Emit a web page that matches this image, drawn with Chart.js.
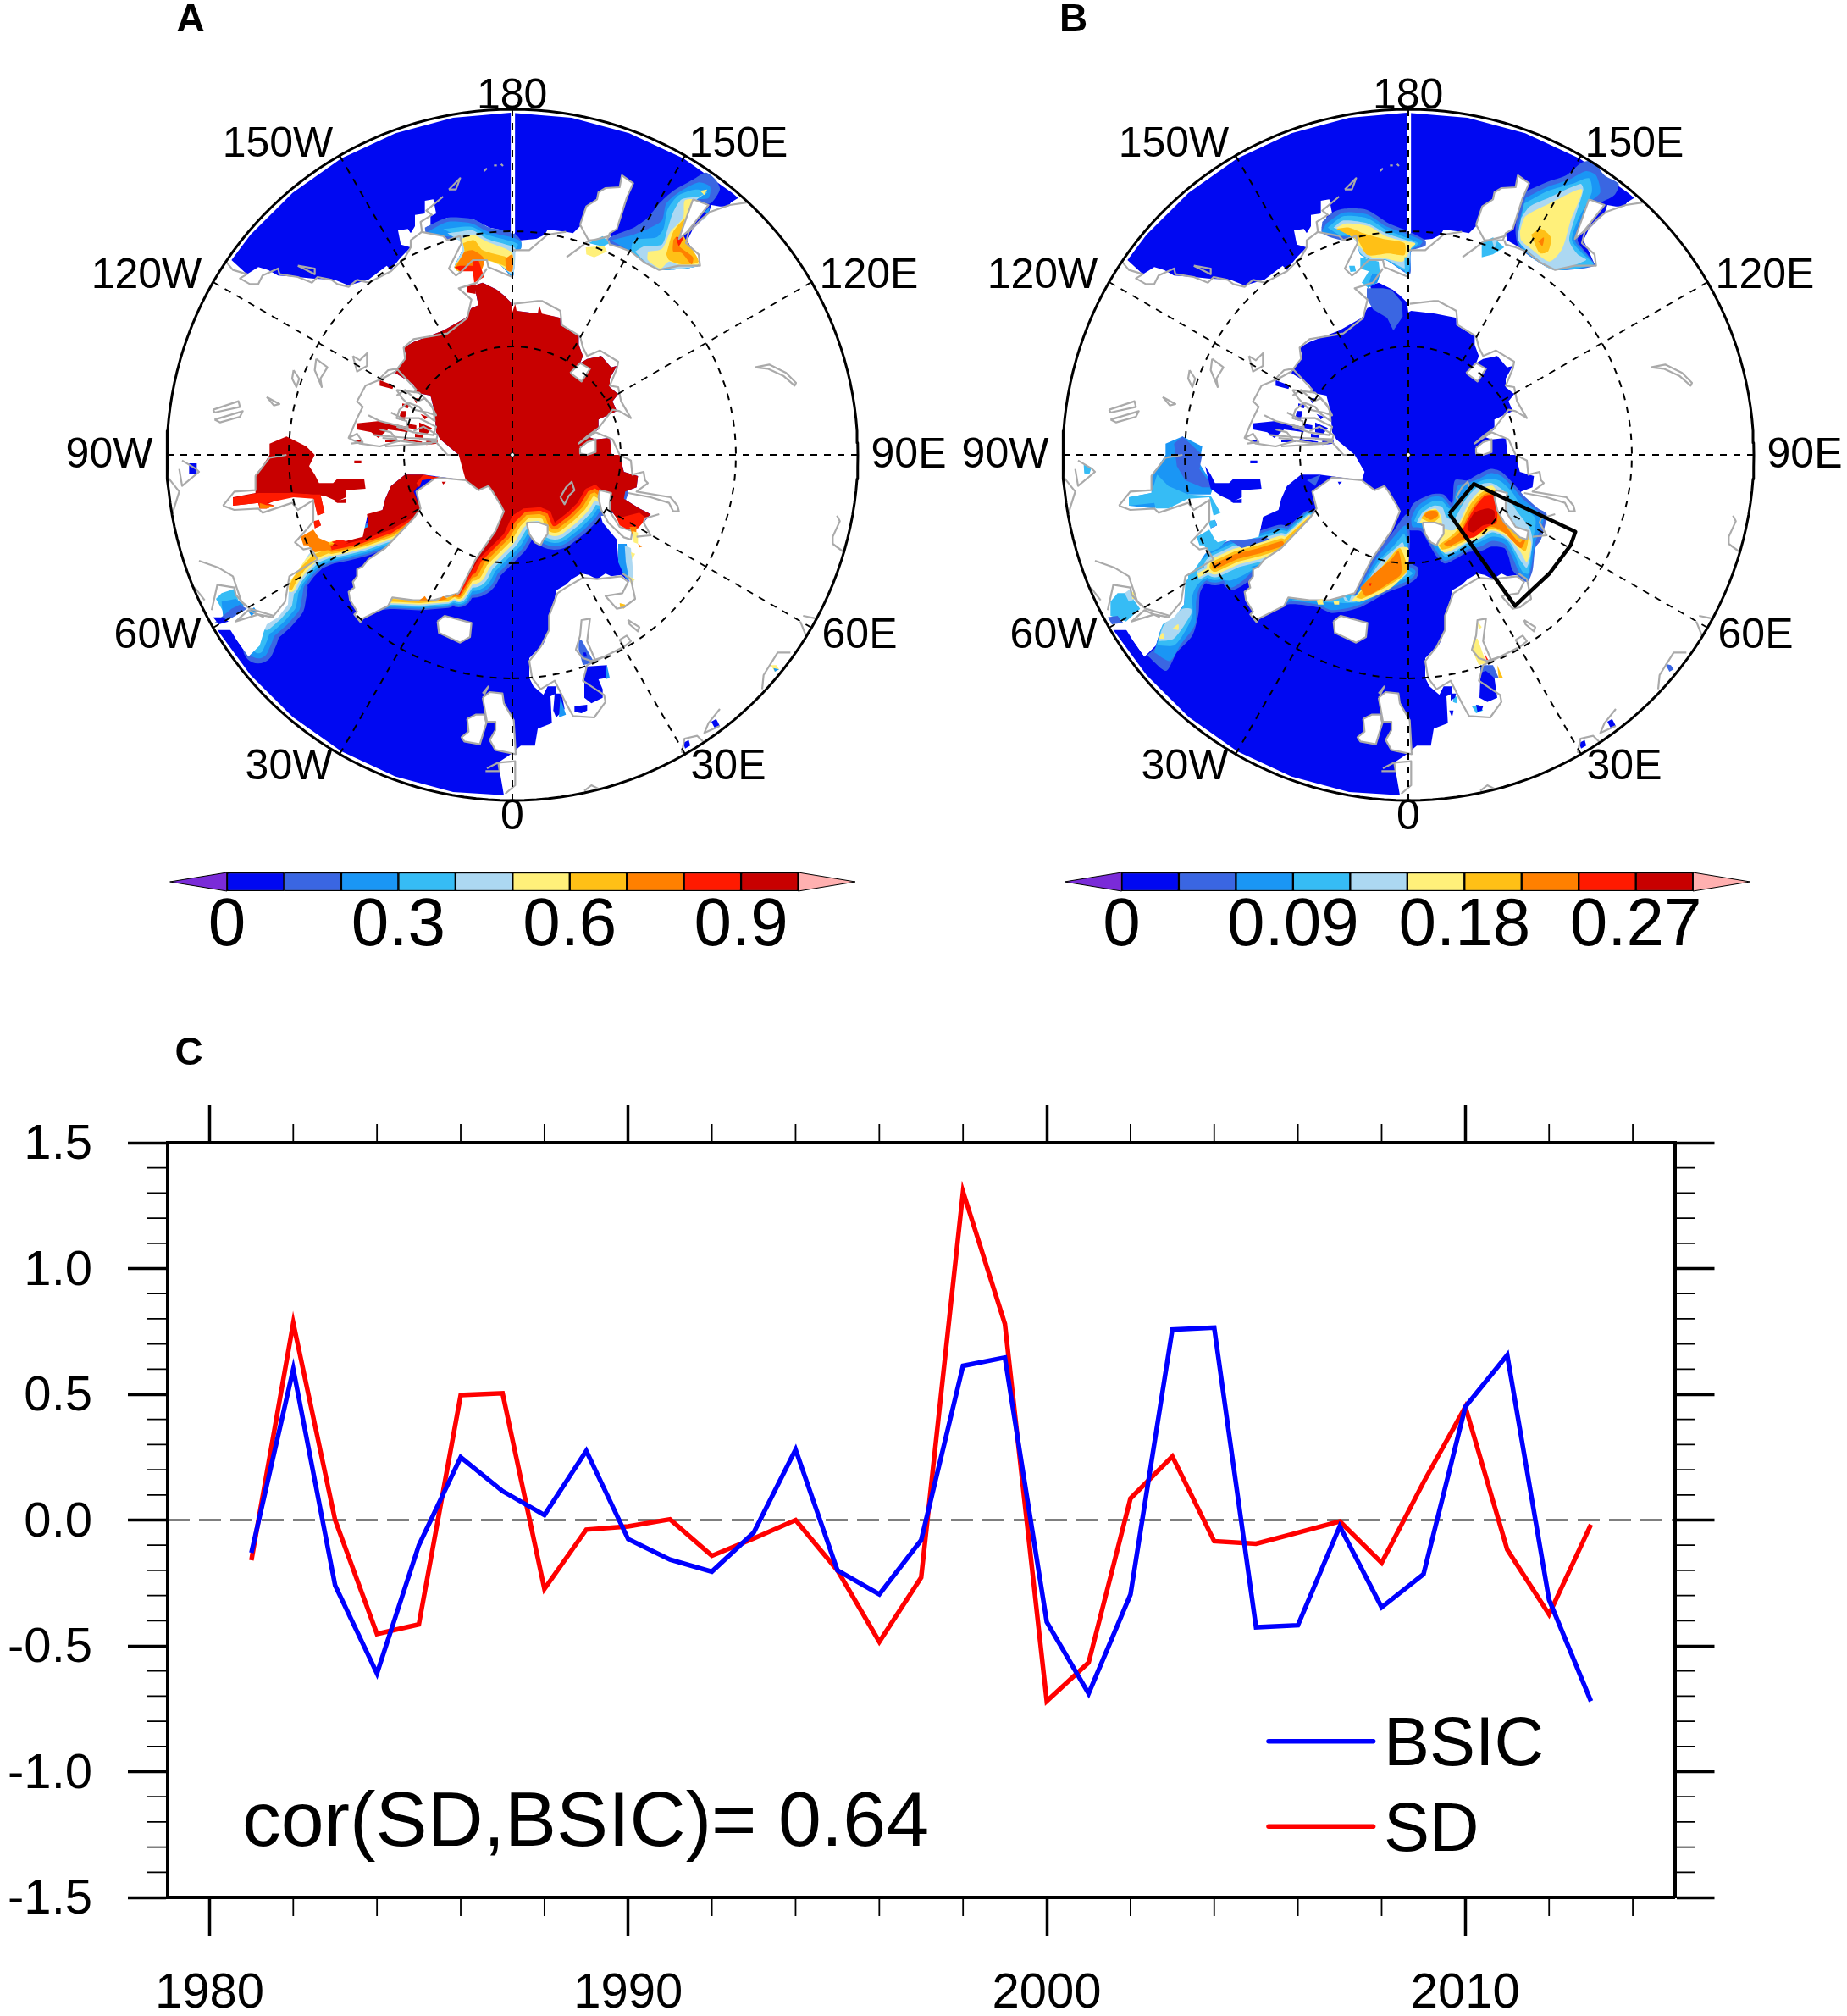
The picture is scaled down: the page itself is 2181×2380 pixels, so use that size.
<!DOCTYPE html>
<html><head><meta charset="utf-8"><title>Arctic sea ice and snow depth</title>
<script src="https://cdn.jsdelivr.net/npm/chart.js@4"></script>
<style>html,body{margin:0;padding:0;background:#fff;width:2181px;height:2380px;overflow:hidden}canvas{position:absolute;display:block}</style>
</head><body>
<canvas id="mapA" width="1130" height="1005" style="left:0;top:0;width:1130px;height:1005px"></canvas>
<canvas id="mapB" width="1051" height="1005" style="left:1130px;top:0;width:1051px;height:1005px"></canvas>
<canvas id="barA" width="980" height="140" style="left:120px;top:1010px;width:980px;height:140px"></canvas>
<canvas id="barB" width="1001" height="140" style="left:1180px;top:1010px;width:1001px;height:140px"></canvas>
<canvas id="series" width="2181" height="1180" style="left:0;top:1200px;width:2181px;height:1180px"></canvas>
<script>
/* ---------- panel C series ---------- */
const years=[1981,1982,1983,1984,1985,1986,1987,1988,1989,1990,1991,1992,1993,1994,1995,1996,1997,1998,1999,2000,2001,2002,2003,2004,2005,2006,2007,2008,2009,2010,2011,2012,2013];
const bsic=[-0.13,0.6,-0.26,-0.61,-0.10,0.25,0.115,0.02,0.275,-0.076,-0.157,-0.205,-0.05,0.28,-0.2,-0.295,-0.08,0.613,0.646,-0.405,-0.69,-0.296,0.757,0.765,-0.426,-0.418,-0.025,-0.347,-0.215,0.45,0.656,-0.317,-0.72];
const sd=[-0.16,0.783,0,-0.453,-0.415,0.497,0.504,-0.274,-0.038,-0.025,0.003,-0.142,-0.073,0,-0.2,-0.484,-0.228,1.305,0.78,-0.72,-0.567,0.086,0.253,-0.084,-0.094,-0.05,-0.005,-0.17,0.15,0.45,-0.117,-0.375,-0.018];
const yearMajor=[1980,1990,2000,2010];
const yearMinor=[1982,1984,1986,1988,1992,1994,1996,1998,2002,2004,2006,2008,2012,2014];
const valueMajor=[-1.5,-1,-0.5,0,0.5,1,1.5];
const valueMinor=[-1.4,-1.3,-1.2,-1.1,-0.9,-0.8,-0.7,-0.6,-0.4,-0.3,-0.2,-0.1,0.1,0.2,0.3,0.4,0.6,0.7,0.8,0.9,1.1,1.2,1.3,1.4];
/* ---------- colour bars ---------- */
const levelColors=['#0008F2','#3A66E2','#1A96F5','#36BCF5','#ACD8F2','#FFF07A','#FFC016','#FF8000','#FF1A00','#C80000'];
const barAEdges=[0,0.1,0.2,0.3,0.4,0.5,0.6,0.7,0.8,0.9,1];
const barBEdges=[0,0.03,0.06,0.09,0.12,0.15,0.18,0.21,0.24,0.27,0.3];
const barATicks=[0,0.3,0.6,0.9];
const barBTicks=[0,0.09,0.18,0.27];
/* ---------- map labels, in map grid units ---------- */
const lonNames=['180','150W','150E','120W','120E','90W','90E','60W','60E','30W','30E','0'];
const lonX=[1229,399,2031,-66,2493,-198,2634,-27,2460,438,1995,1230];
const lonY=[-39,132,132,597,597,1233,1233,1872,1872,2337,2337,2514];
const meridians=[0,30,60,90,120,150,180,210,240,270,300,330];
const parallels=[384,792];
const rimRadius=1224;
/* ---------- shared map outlines, map grid units (pole at 1230,1230) ---------- */
const pacificSea=[235,540,302,451,451,302,624,180,816,91,1020,36,1224,18,1440,36,1644,91,1836,180,2009,302,2030,320,2005,335,1995,350,1965,350,1935,345,1925,375,1910,390,1870,430,1850,470,1870,510,1890,555,1820,560,1750,572,1700,545,1650,510,1580,470,1575,445,1470,420,1445,445,1420,440,1355,432,1345,450,1315,465,1260,470,1240,470,1225,440,1150,425,1090,395,1000,390,920,425,940,420,940,385,960,375,950,325,920,330,920,375,885,380,885,420,870,445,860,430,825,435,835,485,870,495,835,530,815,555,800,575,785,560,720,610,650,630,600,610,520,605,470,600,400,595,365,575,330,565,290,590];
const atlanticSea=[185,1850,265,1850,265,1870,250,1880,295,1945,335,1905,350,1855,360,1830,400,1805,435,1760,440,1680,470,1640,510,1580,560,1545,610,1530,640,1535,700,1520,715,1450,770,1425,780,1385,800,1340,850,1300,915,1300,1065,1320,1075,1290,1040,1230,975,1175,960,1150,955,1080,940,1020,890,1010,880,980,815,940,855,880,845,850,880,830,985,790,1065,745,1085,710,1110,700,1095,630,1125,620,1175,645,1200,665,1225,690,1230,725,1240,720,1325,730,1400,745,1400,770,1465,810,1465,840,1480,880,1470,905,1495,890,1545,880,1580,920,1600,915,1575,960,1575,990,1605,1015,1585,1040,1600,1075,1535,1105,1535,1140,1495,1165,1525,1175,1575,1170,1582,1230,1610,1230,1625,1290,1675,1305,1670,1345,1630,1360,1625,1385,1680,1420,1720,1440,1695,1470,1640,1490,1570,1420,1545,1350,1530,1400,1550,1470,1600,1530,1605,1600,1640,1670,1645,1680,1615,1655,1580,1660,1560,1650,1530,1670,1500,1655,1475,1650,1440,1670,1420,1690,1385,1710,1380,1740,1360,1800,1360,1850,1340,1900,1290,1950,1290,2020,1305,2050,1340,2080,1355,2050,1385,2050,1385,2075,1365,2085,1370,2180,1320,2200,1310,2260,1260,2260,1225,2290,1180,2320,1200,2435,1020,2424,816,2369,624,2280,451,2158,302,2009];
const hudsonBay=[370,1190,430,1165,500,1200,530,1230,510,1270,530,1300,545,1330,595,1330,610,1315,705,1315,710,1350,640,1355,640,1380,610,1395,565,1375,530,1372,450,1368,360,1405,385,1410,360,1420,335,1420,330,1400,240,1410,240,1380,320,1365,320,1300,345,1270,370,1230];
const hudsonArm=[525,1372,550,1370,565,1435,540,1445];
const archipelago=[[680,1118,760,1110,855,1130,860,1150,790,1140,755,1170,730,1150,680,1140],[900,1115,945,1135,925,1160,900,1150],[760,965,810,985,805,997,760,985],[840,1048,865,1052,860,1065,840,1060],[835,1075,855,1075,848,1110,828,1105],[905,1085,930,1095,920,1105],[880,1030,900,1030,890,1048],[780,1178,830,1180,830,1185,780,1185],[845,1173,910,1183,910,1187,845,1180],[675,1178,695,1178,695,1185,675,1185],[670,1250,695,1250,695,1260,670,1260],[980,1325,995,1325,985,1335],[535,1465,545,1460,552,1480,530,1490],[600,1395,640,1385,640,1400,610,1400],[860,1120,890,1125,890,1140,860,1135],[925,1180,965,1175,965,1190,925,1195],[885,1155,915,1160,915,1170,885,1168]];
const remoteCells=[[1835,2250,1855,2240,1860,2260,1842,2270],[1935,2175,1952,2165,1965,2190,1948,2200]];
const landGreenland=[720,1600,700,1625,680,1635,680,1660,665,1680,670,1700,650,1715,655,1745,680,1785,670,1795,692,1822,700,1810,790,1765,805,1735,880,1745,950,1745,1040,1720,1100,1600,1170,1500,1200,1430,1190,1410,1160,1360,1145,1340,1110,1355,1065,1320,960,1310,890,1360,905,1420,880,1455,780,1560];
const landIceland=[965,1820,990,1800,1085,1825,1080,1875,1045,1895,970,1860];
const landIreland=[1070,2165,1100,2150,1130,2150,1138,2180,1115,2255,1060,2245,1050,2230,1075,2210];
const landBritain=[1125,2090,1150,2070,1195,2075,1200,2110,1235,2170,1242,2290,1170,2275,1150,2240,1170,2205,1170,2175,1140,2175];
const landKamchatka=[1470,415,1492,350,1530,325,1535,300,1560,285,1610,282,1618,240,1658,268,1635,320,1600,430,1575,445,1565,470,1500,470];
const landSakhalin=[1870,325,1925,345,1850,440,1820,465];
const landNovaya=[1540,1355,1580,1365,1575,1400,1575,1430,1610,1485,1655,1500,1650,1530,1625,1522,1570,1470,1545,1425,1535,1380];
const landSvalbard=[1280,1470,1325,1470,1355,1480,1355,1510,1340,1530,1330,1550,1310,1540,1290,1510];
const landTaimyr=[1470,1205,1495,1185,1525,1175,1525,1220,1495,1230,1470,1225];
const landSevernaya=[1435,940,1475,970,1505,925,1470,905];
const landAmerica=[295,1945,335,1905,350,1855,360,1830,400,1805,435,1760,440,1680,470,1640,510,1580,560,1545,610,1530,640,1535,700,1520,715,1450,640,1440,560,1470,400,1600,200,1800,250,1880];
const coastLines=[
[215,545,240,575,290,590,265,605,300,625,330,625,345,595,400,570,405,590,470,600,520,620,540,600,590,610,610,625,650,635,680,610,720,620,800,580,850,530,870,495,870,470,910,440,905,405,945,380,925,365,985,315],
[905,440,985,455,1000,470,1045,455,1050,480,1005,570,1030,595,1050,580,1090,540,1140,540,1145,565,1230,600],
[1140,570,1105,620,1040,640,1085,680,1070,745,1000,800,880,820,845,850,850,890,815,935,770,960,710,985,680,1040,700,1060,680,1100,650,1170,690,1190,760,1200,830,1180,900,1190,960,1185,1000,1230,1040,1230],
[170,1070,260,1040,265,1060,175,1080,170,1070],[175,1105,275,1075,265,1095,195,1115,175,1105],[360,1025,405,1050,385,1055,360,1025],[455,930,475,960,465,990,450,960,455,930],[535,890,575,920,550,960,555,990,530,930,535,890],[665,880,690,895,715,870,715,915,680,935,665,880],
[1005,290,1045,250,1030,290,1005,290],[1130,225,1140,215],[1165,205,1175,205],[1190,200,1197,207],[470,560,530,570,530,590,490,570,470,560],
[820,1000,900,1010,940,1050,960,1090,930,1080,880,1070,840,1030,820,1000],[800,1080,840,1100,900,1100,960,1130,950,1160,880,1150,820,1130],[740,1160,860,1170,960,1175,940,1190,780,1200],
[760,960,790,930,820,925,890,1000,880,1010],[820,1020,850,1000,895,1040,920,1030,950,1065,955,1110,920,1085,900,1060,860,1045,830,1070,820,1100,855,1110,860,1135,800,1120,760,1110,720,1090],[760,1140,800,1150,820,1175,770,1170],[880,1145,915,1130,965,1160,960,1180,900,1175],[650,1170,680,1155,700,1185,660,1190],
[2090,920,2140,910,2200,940,2235,975,2230,985,2190,950,2135,925,2090,920],
[2070,335,2000,345,1930,370,1900,395,1855,440,1845,480,1890,520,1895,560,1820,560,1750,575,1700,550,1650,510,1610,495,1575,485,1570,470],[1422,530,1470,495,1495,475,1575,455],
[1230,505,1290,505,1355,450,1420,440],[1235,695,1320,685,1335,685,1400,720,1405,770,1470,810,1480,850,1495,880,1540,860,1605,900,1600,925,1575,985,1605,990,1615,1040,1650,1100,1610,1075,1585,1070,1535,1135,1500,1160,1465,1190,1525,1150,1585,1175,1610,1230],
[1610,1230,1650,1250,1655,1300,1695,1290,1700,1320,1710,1330,1670,1360,1790,1380,1815,1410,1820,1430,1800,1430,1785,1400,1720,1380,1640,1365],[1750,1440,1700,1455,1695,1470,1720,1515,1670,1520],
[1620,1650,1650,1670,1665,1740,1625,1770,1600,1775,1560,1730,1620,1720,1640,1680,1615,1660,1530,1670,1480,1665,1420,1700,1390,1720,1360,1800,1360,1850,1330,1910,1290,1960,1300,2020,1330,2060,1380,2030,1420,2110,1445,2155,1520,2160,1560,2105,1555,2080,1480,2030,1495,1975,1615,1915,1555,1945,1510,1960,1480,1950,1455,1920,1470,1870,1475,1815,1505,1810,1495,1890,1525,1960],
[1640,1815,1680,1840,1675,1855,1645,1830,1640,1815],[1610,1885,1635,1870,1650,1890,1625,1910,1610,1885],[1400,1380,1420,1345,1440,1325,1450,1355,1430,1375,1415,1405,1400,1380],
[2380,1445,2390,1465,2365,1520,2365,1545,2405,1575],[2260,1800,2310,1810,2270,1870,2250,1820],[2215,1930,2170,1930,2120,2010,2115,2060],[1965,2130,1925,2180,1910,2215,1965,2190],[1830,2285,1840,2235,1885,2225,1910,2250],[1485,2420,1510,2400,1540,2415],
[205,1410,245,1360,320,1355,320,1305,370,1240,430,1230],[205,1410,245,1425,330,1420,345,1435,450,1400,470,1425,525,1390,525,1465,505,1490,460,1540,490,1565,515,1560,540,1600,490,1630,440,1660,425,1750,380,1805,330,1795,250,1820,295,1780,350,1805],
[120,1605,190,1630,240,1660,270,1750,290,1765],[165,1780,185,1690,245,1700,250,1725,280,1760,300,1775,385,1800],[60,1250,110,1280,120,1290,60,1340,50,1280],[10,1310,50,1360,25,1440],[105,1700,140,1745],
[1125,2075,1145,2050,1130,2080],[1140,2340,1180,2320,1185,2350,1135,2350],[1180,2320,1240,2315,1240,2400,1205,2430]
];
/* ---------- panel A ice-edge bands: [top level, band step, path] ---------- */
const iceEdgeA=[
[8,2.3,[880,1450,800,1500,700,1535,640,1550,590,1560]],
[6,2.7,[590,1565,530,1590,490,1630,460,1670,445,1700]],
[4,5,[445,1700,435,1760,400,1800,360,1835]],
[3,6,[360,1835,345,1880,330,1915]],
[6,1.7,[720,1755,800,1745,900,1750,1000,1742,1040,1720]],
[8,2,[1040,1722,1090,1640]],
[8,4,[1090,1640,1110,1600,1170,1540,1200,1510,1230,1460,1270,1420,1330,1415,1365,1430,1380,1470,1425,1435,1460,1400,1490,1350,1525,1335,1545,1350]]
];
const arcticA=[1065,1320,1040,1230,975,1175,960,1150,955,1080,940,1020,890,1010,880,980,815,940,855,880,845,850,880,830,985,790,1065,745,1085,710,1110,700,1095,630,1125,620,1175,645,1200,665,1225,690,1230,725,1240,695,1245,720,1320,730,1325,700,1335,730,1400,745,1400,770,1465,810,1465,840,1480,880,1470,905,1495,890,1545,880,1580,920,1600,915,1575,960,1575,990,1605,1015,1585,1040,1600,1075,1535,1105,1535,1140,1495,1165,1525,1175,1575,1170,1582,1230,1610,1230,1625,1290,1675,1305,1670,1345,1630,1360,1625,1385,1680,1420,1720,1440,1695,1465,1680,1445,1600,1455,1575,1420,1550,1360,1540,1350,1525,1335,1490,1350,1460,1400,1425,1435,1380,1470,1365,1430,1330,1415,1270,1420,1230,1445,1200,1510,1170,1540,1110,1600,1040,1720,1000,1500];
const baffinA=[715,1440,770,1425,780,1385,800,1340,850,1300,915,1300,905,1330,880,1360,905,1420,880,1450,800,1495,700,1530,640,1545,590,1555,610,1530,640,1525,660,1530,700,1515,705,1490,720,1485];
/* panel A contour layers: [level, outline] */
const layersA=[
[1,[335,465,365,450,430,425,480,390,520,340,570,295,640,255,685,230,720,255,735,290,700,340,640,330,590,465,625,530,660,560,520,572,420,510,350,485],1230],
[2,[350,470,430,450,480,430,530,400,545,340,590,300,660,265,700,280,695,320,640,330,590,465,625,530,660,560,520,572,420,510],1230],
[3,[420,510,430,470,510,460,535,430,550,360,590,310,650,290,690,300,650,330,600,460,625,530,660,560,520,572],1230],
[4,[435,510,470,490,530,485,550,430,570,370,600,325,660,315,690,300,650,330,600,460,620,530,660,560,520,572,470,545],1230],
[5,[480,510,530,500,560,440,605,390,610,330,640,325,640,340,600,440,640,530,660,555,600,560,555,545,525,570,480,540],1230],
[6,[545,520,570,440,610,395,600,440,660,545,600,555,555,540],1230],
[7,[570,470,585,455,590,490,640,530,635,555,600,515,570,510],1230],
[8,[580,460,605,460,590,490],1230],
[1,[920,425,1000,390,1090,395,1150,425,1230,440,1260,470,1260,500,1240,510,1232,600,1190,560,1150,540,1130,540,1090,540,1080,570,1040,580,1025,565,1050,510,1050,480,1040,450,1000,470,985,445,925,445]],
[2,[930,440,1000,405,1085,410,1145,440,1230,460,1260,475,1260,500,1240,505,1232,598,1190,560,1150,540,1090,540,1080,570,1040,580,1025,565,1050,510,1050,480,1030,460,985,455]],
[3,[985,430,1085,422,1140,450,1230,475,1250,485,1240,505,1232,595,1190,560,1150,540,1090,540,1080,570,1040,580,1025,565,1050,510,1050,480,1030,455]],
[4,[1000,445,1040,440,1090,435,1140,465,1225,490,1240,500,1232,590,1190,560,1150,540,1090,540,1080,570,1040,580,1025,565,1050,510,1050,480]],
[5,[1050,465,1090,450,1140,475,1225,510,1235,540,1225,580,1190,560,1130,540,1080,570,1040,580,1025,565,1060,510]],
[6,[1055,480,1095,470,1125,505,1210,530,1230,545,1225,575,1200,560,1130,540,1080,570,1040,580,1025,565,1060,515]],
[7,[1060,510,1090,505,1130,535,1120,575,1090,560,1050,570,1030,568]],
[7,[1205,535,1230,520,1230,580,1210,575]]
];
/* panel A detail cells: [level, outline] */
const detailsA=[
[9,[1070,630,1100,625,1100,660,1070,655]],[8,[1025,565,1045,560,1090,560,1090,545,1110,540,1130,600,1095,620,1090,580,1045,580]],
[3,[1500,480,1550,455,1575,480,1550,492]],[5,[1490,495,1555,490,1565,510,1520,530,1492,520]],
[5,[1895,295,1920,290,1910,310]],[2,[1910,370,1930,350,1925,375]],[4,[1895,395,1920,385,1905,400]],
[8,[240,1382,330,1365,450,1365,525,1370,550,1370,565,1435,540,1445,525,1385,455,1380,360,1400,388,1410,360,1420,335,1420,330,1400,240,1410]],
[7,[335,1400,358,1408,385,1410,360,1420,335,1420]],
[8,[525,1465,545,1460,552,1480,530,1490]],[7,[480,1520,525,1495,545,1525,580,1540,590,1565,530,1575,505,1550,490,1550]],
[8,[590,1538,620,1530,650,1540,620,1555]],[7,[900,1745,920,1730,930,1745]],[7,[965,1748,985,1730,1000,1740]],[7,[1015,1735,1030,1720,1035,1730]],
[8,[890,1330,915,1300,970,1310,910,1320,900,1345]],
[8,[1600,1455,1680,1435,1705,1455,1675,1490,1640,1495,1610,1480]],[7,[1645,1485,1670,1485,1668,1520,1655,1510]],[5,[1655,1500,1675,1505,1675,1545,1660,1540]],[7,[1675,1545,1690,1555,1680,1558]],
[2,[1605,1545,1635,1545,1640,1610,1655,1680,1630,1665,1605,1610]],[4,[1628,1550,1650,1560,1655,1610,1660,1680,1645,1680,1632,1610]],[5,[1650,1575,1665,1580,1655,1600]],[5,[1640,1660,1665,1670,1650,1685]],[6,[1610,1755,1630,1760,1625,1775,1612,1770]],
[3,[180,1740,200,1720,245,1705,265,1760,220,1810]],[2,[200,1750,250,1740,280,1760,240,1800,205,1800]],[1,[235,1775,265,1760,290,1775,240,1805,205,1820,175,1825]],[0,[170,1805,205,1805,225,1820,190,1830]],[2,[295,1785,315,1770,325,1785,305,1800]],
[0,[85,1260,112,1260,112,1297,85,1297]],
[1,[1465,1885,1475,1885,1520,1965,1480,1975,1465,1920]],[0,[1480,1930,1490,1930,1495,1945,1485,1945]],
[0,[1490,1980,1565,1975,1565,2020,1535,2025,1550,2060,1550,2090,1510,2110,1485,2090,1485,2020]],[2,[1565,1975,1575,2020,1560,2025]],
[0,[1450,2120,1495,2115,1495,2135,1475,2145,1450,2140]],[0,[1380,2075,1405,2075,1415,2130,1385,2160,1375,2135]],[2,[1400,2090,1420,2150,1395,2160]],
[5,[2145,1975,2165,1975,2175,1990,2160,1998]],[2,[2155,1985,2175,1990,2160,1998]]
];
/* ---------- panel B contour layers ---------- */
const ridgesB=[
[7,3.2,[545,1625,620,1590,700,1570,780,1545]],
[6,1.6,[780,1545,880,1455]],
[5,2.5,[470,1665,545,1625]]
];
const layersB=[
[1,[925,405,965,370,1004,358,1083,362,1161,410,1216,432,1290,470,1290,490,1240,510,1235,590,1150,540,1100,540,1060,520,1050,480,1040,450,1000,470,925,445]],
[2,[940,410,1000,372,1083,378,1150,420,1216,445,1280,472,1270,490,1240,505,1232,585,1150,540,1100,540,1060,520,1050,480,1030,460,985,455,925,440]],
[3,[945,425,1000,385,1085,392,1150,432,1216,458,1265,480,1250,495,1235,505,1230,580,1150,540,1100,540,1060,520,1050,480,1030,455,985,450]],
[4,[965,425,1000,400,1085,410,1150,445,1225,470,1255,480,1240,497,1225,570,1150,538,1100,538,1060,515,1045,475,1020,450]],
[5,[975,425,1010,410,1090,420,1150,455,1225,475,1255,482,1240,497,1210,545,1150,535,1100,530,1055,490,1040,465]],
[6,[975,430,1020,425,1070,445,1140,465,1216,480,1216,522,1160,517,1085,522,1050,470]],
[1,[1640,300,1726,262,1789,240,1844,195,1883,190,1925,240,1975,270,1960,310,1900,345,1860,400,1830,470,1865,520,1890,560,1750,575,1680,540,1620,490,1610,420]],
[2,[1645,320,1726,280,1800,255,1860,225,1895,240,1910,300,1880,330,1840,400,1820,470,1860,520,1885,558,1750,575,1680,540,1625,490,1620,420]],
[3,[1640,340,1726,295,1810,270,1870,250,1880,300,1830,400,1810,470,1850,520,1885,555,1745,575,1680,535,1625,480,1625,420]],
[4,[1630,390,1660,350,1726,320,1840,270,1850,290,1820,390,1800,470,1830,520,1860,540,1745,575,1680,530,1620,470]],
[5,[1625,440,1645,385,1740,335,1845,290,1805,400,1775,500,1730,545,1665,500,1630,470]],
[6,[1665,450,1700,430,1735,460,1725,510,1695,515]],
[7,[1690,475,1710,460,1705,490]],
[1,[305,1940,372,1995,410,1930,465,1870,487,1790,492,1720,515,1680,555,1670,600,1710,660,1680,690,1630,500,1600,440,1680,435,1760,400,1800,360,1830,335,1910]],
[2,[330,1930,385,1960,425,1900,475,1830,478,1750,490,1700,520,1670,560,1660,600,1700,650,1670,680,1630,500,1600,440,1680,435,1760,400,1800,360,1830,335,1910]],
[3,[340,1905,400,1905,430,1870,465,1800,465,1730,480,1695,520,1660,600,1675,680,1630,500,1600,440,1680,435,1760,400,1800,360,1830]],
[4,[345,1890,400,1880,460,1795,460,1775,430,1775,385,1810,360,1840]],
[5,[395,1845,415,1830,415,1850]],[5,[345,1880,360,1860,365,1880]],
[1,[1035,1735,1110,1585,1170,1510,1225,1440,1235,1560,1210,1590,1230,1610,1265,1630,1260,1665,1225,1690,1150,1720,1060,1770,960,1790,910,1770,800,1760,700,1810,800,1735,1040,1720]],
[2,[1040,1735,1115,1600,1175,1525,1220,1480,1230,1560,1205,1590,1225,1620,1255,1640,1250,1660,1220,1680,1150,1710,1060,1760,960,1780,910,1760,810,1750,720,1800,800,1735]],
[3,[1050,1725,1125,1605,1180,1550,1215,1510,1225,1560,1205,1595,1220,1630,1245,1650,1215,1670,1150,1700,1060,1750,1000,1755,900,1750,820,1745]],
[4,[1055,1730,1130,1610,1185,1560,1210,1540,1225,1600,1225,1650,1160,1695,1060,1745,1010,1750,1000,1730]],
[5,[1030,1745,1150,1610,1195,1560,1230,1560,1225,1640,1170,1700,1060,1750]],
[6,[1045,1735,1160,1600,1200,1560,1225,1640,1165,1690,1065,1740]],
[7,[1060,1700,1110,1650,1170,1600,1195,1570,1205,1650,1160,1685,1080,1730]],
[8,[1090,1685,1100,1685,1095,1695]]
];
const eastB=[
[1,[0,210,20,170,80,140,125,140,155,170,165,90,210,90,245,70,290,50,330,60,380,110,410,145,460,190,490,210,470,300,450,330,440,410,420,450,370,410,355,360,340,330,295,325,260,340,210,345,165,370,130,385,100,360,70,310,45,270,0,265]],
[2,[10,225,30,185,80,150,120,150,155,185,175,110,210,100,250,85,290,65,330,75,375,120,405,155,460,200,480,225,450,310,435,400,420,445,395,420,365,355,340,315,295,305,255,325,210,335,165,360,130,375,105,350,75,300,50,260,15,255]],
[3,[20,235,40,195,85,165,120,165,145,190,170,190,200,130,250,95,295,85,330,95,370,135,400,180,450,225,440,310,425,420,405,415,375,350,345,300,295,290,250,310,205,325,160,350,130,360,110,335,85,290,60,250]],
[4,[30,240,50,205,90,180,120,185,135,220,160,230,205,155,255,105,295,100,340,130,385,200,430,260,440,310,420,400,395,370,360,310,330,285,295,275,250,300,205,315,160,345,130,350,115,325,100,300,75,250]],
[5,[40,240,60,205,95,190,115,215,125,260,165,265,215,170,262,120,300,110,330,170,370,250,410,275,435,310,420,380,395,340,350,290,295,268,250,295,205,310,150,340,125,345,105,320,110,250]],
[6,[45,225,65,200,100,195,110,220,85,240]],
[6,[108,320,170,270,220,175,265,130,305,125,335,200,370,270,405,290,425,285,415,340,385,320,345,280,295,262,245,285,200,305,145,330,120,335]],
[7,[55,215,70,200,100,200,105,215,80,230]],
[7,[125,315,180,275,225,190,268,140,305,135,325,200,345,250,395,310,420,280,400,330,340,275,295,255,240,280,195,300,140,325]],
[8,[190,270,230,195,272,145,305,145,315,200,312,240,280,255,235,290,195,295]],
[9,[215,235,235,205,280,190,305,200,300,240,265,250,230,275,210,265]]
];
const detailsB=[
[3,[1020,560,1040,560,1045,580,1025,582]],[3,[1060,530,1125,545,1130,590,1100,590,1090,640,1065,620,1090,580,1060,570]],[2,[1100,590,1130,590,1120,620,1085,640]],
[1,[1083,640,1140,640,1170,645,1208,690,1210,740,1177,790,1155,745,1105,715,1085,680]],[3,[1216,530,1232,530,1228,590,1218,585]],
[3,[1490,480,1530,460,1570,495,1530,520,1490,530]],[4,[1525,465,1545,470,1535,500]],
[2,[370,1190,430,1165,500,1200,490,1260,540,1340,530,1370,450,1370,345,1410,330,1420,240,1410,240,1380,320,1365,320,1300,345,1270,370,1230]],
[3,[240,1380,320,1365,340,1300,380,1340,450,1370,530,1375,565,1435,540,1445,525,1380,450,1385,380,1420,335,1420,330,1400,240,1410]],
[1,[400,1190,430,1165,500,1230,490,1280,540,1345,500,1345,440,1320,410,1270]],[0,[510,1270,530,1300,545,1330,595,1330,610,1315,705,1315,710,1350,640,1355,640,1380,610,1395,565,1375,530,1350]],
[3,[480,1520,525,1495,545,1530,555,1540,590,1530,560,1560,525,1575,505,1550,490,1550]],[3,[450,1650,480,1640,490,1680,465,1700,450,1690]],[3,[520,1465,545,1460,552,1480,530,1490]],
[1,[870,1320,920,1300,900,1340,880,1325]],[1,[600,1535,700,1525,720,1520,740,1530,640,1560]],
[5,[905,1745,925,1740,930,1760,910,1760]],[5,[965,1750,985,1745,985,1760,968,1760]],[3,[1005,1730,1030,1725,1020,1750]],
[3,[175,1750,200,1720,240,1720,280,1775,230,1820,175,1800]],[4,[225,1720,245,1705,265,1740,240,1750]],[1,[165,1805,200,1800,220,1825,180,1830]],[5,[250,1720,258,1710,262,1740,252,1740]],
[3,[80,1265,108,1275,100,1298,82,1295]],
[5,[1460,1885,1475,1880,1500,1950,1515,1965,1480,1975,1455,1920]],[5,[1475,1820,1490,1840,1480,1850]],[8,[1498,1930,1515,1960,1508,1960]],
[1,[1485,1975,1530,1975,1550,2020,1535,2020,1505,2000,1485,2005]],[0,[1488,2000,1505,1995,1535,2020,1545,2090,1510,2105,1482,2090,1485,2025]],[6,[1545,1975,1565,2020,1550,2020]],[3,[1455,2120,1480,2115,1495,2135,1470,2145]],[0,[1470,2115,1495,2120,1490,2135,1475,2140]],[3,[1390,2080,1405,2090,1400,2110,1388,2105]],[0,[1380,2075,1400,2075,1395,2090,1380,2100]],[0,[1375,2135,1390,2135,1385,2160]],
[1,[2140,1970,2160,1975,2170,1990,2155,1998]]
];
const boxB=[1375,1438,1462,1333,1822,1502,1805,1550,1730,1650,1655,1720,1608,1765,1375,1438];
const corText='cor(SD,BSIC)= 0.64';

const FONT='"Liberation Sans",Arial,Helvetica,sans-serif';
function toPoints(f,dx,dy,close){const a=[];for(let i=0;i<f.length;i+=2)a.push({x:f[i]+(dx||0),y:f[i+1]+(dy||0)});if(close)a.push(a[0]);return a;}
function fillSet(f,color,dx,dy,tension,edge){return{type:'scatter',data:toPoints(f,dx,dy,true),showLine:true,fill:'shape',backgroundColor:color,borderColor:edge||color,borderWidth:edge?2.2:0,pointRadius:0,tension:tension||0,borderJoinStyle:'round',clip:false};}
function lineSet(pts,color,width,dash,cap){return{type:'scatter',data:pts,showLine:true,fill:false,borderColor:color,backgroundColor:color,borderWidth:width,borderDash:dash||[],borderCapStyle:cap||'butt',borderJoinStyle:'round',pointRadius:0,clip:false};}
const textPlugin=(items)=>({id:'text',afterDraw(c){const g=c.ctx;g.save();g.fillStyle='#000';for(const t of items){const px=t.px?t.x:c.scales.x.getPixelForValue(t.x);const py=t.px?t.y:c.scales.y.getPixelForValue(t.y);g.font=t.font;g.textAlign=t.align||'center';g.textBaseline='middle';g.fillText(t.t,px,py);}g.restore();}});

function buildMap(id,padL,padR,seaLayers,seaEast,ridges,topFills,details,panel,panelX,extra){
  const ds=[];
  ds.push(fillSet(atlanticSea,levelColors[0]));
  ds.push(fillSet(pacificSea,levelColors[0]));
  for(let L=1;L<=9;L++){
    for(const l of seaLayers)if(l[0]===L)ds.push(fillSet(l[1],levelColors[L],l[2]||0,0,0.25));
    for(const l of seaEast)if(l[0]===L)ds.push(fillSet(l[1],levelColors[L],1230,1230,0.25));
    for(const r of ridges)if(r[0]>=L)ds.push(lineSet(toPoints(r[2]),levelColors[L],2*r[1]*(r[0]-L+1),null,'round'));
  }
  for(const f of topFills)ds.push(fillSet(f,levelColors[9]));
  ds.push(fillSet(landAmerica,'#fff'));
  for(const f of [landGreenland,landIceland,landIreland,landBritain,landKamchatka,landSakhalin,landNovaya,landSvalbard,landTaimyr,landSevernaya])ds.push(fillSet(f,'#fff',0,0,0,'#AAAAAA'));
  for(const f of extra.cells)ds.push(fillSet(f,levelColors[extra.cellLevel]));
  for(const d of details)ds.push(fillSet(d[1],levelColors[d[0]]));
  for(const f of remoteCells)ds.push(fillSet(f,levelColors[0]));
  for(const c of coastLines)ds.push(lineSet(toPoints(c),'#AAAAAA',2.2));
  ds.push(lineSet([{x:1232,y:12},{x:1232,y:440}],'#fff',5));
  const cx=1230,cy=1230;
  for(const m of meridians){const a=m*Math.PI/180;const r0=m%90===0?0:parallels[0];ds.push(lineSet([{x:cx+r0*Math.sin(a),y:cy+r0*Math.cos(a)},{x:cx+rimRadius*Math.sin(a),y:cy+rimRadius*Math.cos(a)}],'#000',2,[8,8]));}
  for(const r of parallels){const p=[];for(let a=0;a<=360;a+=3)p.push({x:cx+r*Math.sin(a*Math.PI/180),y:cy+r*Math.cos(a*Math.PI/180)});ds.push(lineSet(p,'#000',2,[8,8]));}
  const rim=[];for(let a=0;a<=360;a+=2)rim.push({x:cx+rimRadius*Math.sin(a*Math.PI/180),y:cy+rimRadius*Math.cos(a*Math.PI/180)});
  ds.push(lineSet(rim,'#000',3));
  if(extra.box)ds.push(lineSet(toPoints(extra.box),'#000',4.5));
  ds.push({type:'scatter',data:[{x:cx,y:cy}],pointRadius:2.5,pointBackgroundColor:'#fff',pointBorderColor:'#000',pointBorderWidth:1,showLine:false,clip:false});
  ds.forEach((d,i)=>{d.order=ds.length-i;});
  const labels=lonNames.map((t,i)=>({t,x:lonX[i],y:lonY[i],font:'50px '+FONT}));
  labels.push({t:panel,x:panelX,y:24,px:true,font:'bold 46px '+FONT});
  new Chart(document.getElementById(id),{type:'scatter',data:{datasets:ds},plugins:[textPlugin(labels)],options:{responsive:false,animation:false,events:[],devicePixelRatio:1,layout:{padding:{left:padL,right:padR,top:127,bottom:58}},plugins:{legend:{display:false},tooltip:{enabled:false}},scales:{x:{type:'linear',min:0,max:2460,display:false},y:{type:'linear',min:0,max:2460,reverse:true,display:false}}}});
}
buildMap('mapA',195,115,layersA,[],iceEdgeA,[arcticA,baffinA,hudsonBay,hudsonArm],detailsA,'A',225,{cells:archipelago,cellLevel:9});
buildMap('mapB',123,108,layersB,eastB,ridgesB,[],detailsB,'B',137.5,{cells:archipelago,cellLevel:0,box:boxB});

function buildBar(id,edges,ticks,padL,padR){
  const step=edges[1]-edges[0];
  const ds=[];
  for(let i=0;i<10;i++)ds.push({type:'bar',indexAxis:'y',data:[[edges[i],edges[i+1]]],backgroundColor:levelColors[i],borderColor:'#000',borderWidth:1.5,borderSkipped:false,barThickness:22,grouped:false,xAxisID:'x',yAxisID:'y'});
  ds.push({type:'scatter',indexAxis:'x',data:[{x:edges[0],y:0},{x:edges[0]-step,y:0.5},{x:edges[0],y:1},{x:edges[0],y:0}],showLine:true,fill:'shape',backgroundColor:'#7A2BD8',borderColor:'#000',borderWidth:1,pointRadius:0,xAxisID:'x',yAxisID:'yt',clip:false});
  ds.push({type:'scatter',indexAxis:'x',data:[{x:edges[10],y:0},{x:edges[10]+step,y:0.5},{x:edges[10],y:1},{x:edges[10],y:0}],showLine:true,fill:'shape',backgroundColor:'#FFB0B0',borderColor:'#000',borderWidth:1,pointRadius:0,xAxisID:'x',yAxisID:'yt',clip:false});
  new Chart(document.getElementById(id),{type:'bar',data:{labels:['scale'],datasets:ds},options:{responsive:false,animation:false,events:[],devicePixelRatio:1,layout:{padding:{left:padL,right:padR,top:20,bottom:0}},plugins:{legend:{display:false},tooltip:{enabled:false}},scales:{
    x:{type:'linear',offset:false,min:edges[0]-step,max:edges[10]+step,position:'bottom',grid:{display:false,offset:false},border:{display:false},afterBuildTicks:s=>{s.ticks=ticks.map(v=>({value:v}));},afterFit:s=>{s.height=98;s.paddingLeft=0;s.paddingRight=0;},ticks:{autoSkip:false,maxRotation:0,minRotation:0,color:'#000',padding:-14,font:{family:FONT,size:80},callback:v=>String(v)}},
    y:{type:'category',offset:true,labels:['scale'],display:false},
    yt:{type:'linear',min:0,max:1,display:false}
  }}});
}
buildBar('barA',barAEdges,barATicks,80.6,90);
buildBar('barB',barBEdges,barBTicks,77,114.4);

function cSeries(v){return years.map((y,i)=>({x:y,y:v[i]}));}
const minorTicks={id:'minorTicks',afterDraw(c){const g=c.ctx,a=c.chartArea,X=c.scales.x,Y=c.scales.y;g.save();g.strokeStyle='#000';g.lineWidth=1.8;g.beginPath();
  for(const v of yearMinor){const p=X.getPixelForValue(v);g.moveTo(p,a.top);g.lineTo(p,a.top-22);g.moveTo(p,a.bottom);g.lineTo(p,a.bottom+22);}
  for(const v of valueMinor){const p=Y.getPixelForValue(v);g.moveTo(a.left,p);g.lineTo(a.left-24,p);g.moveTo(a.right,p);g.lineTo(a.right+24,p);}
  g.stroke();
  g.lineWidth=5.5;g.lineCap='round';
  g.strokeStyle='#0000FF';g.beginPath();g.moveTo(X.getPixelForValue(2005.3),Y.getPixelForValue(-0.88));g.lineTo(X.getPixelForValue(2007.8),Y.getPixelForValue(-0.88));g.stroke();
  g.strokeStyle='#FF0000';g.beginPath();g.moveTo(X.getPixelForValue(2005.3),Y.getPixelForValue(-1.218));g.lineTo(X.getPixelForValue(2007.8),Y.getPixelForValue(-1.218));g.stroke();
  g.restore();}};
const axisCommon=(len)=>({border:{display:true,color:'#000',width:4},grid:{drawOnChartArea:false,drawTicks:true,tickLength:len,tickWidth:3.5,tickColor:'#000',color:'#000'}});
new Chart(document.getElementById('series'),{type:'scatter',data:{datasets:[
  {label:'Zero',data:[{x:1979,y:0},{x:2015,y:0}],showLine:true,borderColor:'#000',borderWidth:2.2,borderDash:[26,11],pointRadius:0,order:3},
  {label:'SD',data:cSeries(sd),showLine:true,borderColor:'#FF0000',borderWidth:5.5,pointRadius:0,borderJoinStyle:'miter',order:2},
  {label:'BSIC',data:cSeries(bsic),showLine:true,borderColor:'#0000FF',borderWidth:5.5,pointRadius:0,borderJoinStyle:'miter',order:1}
]},plugins:[minorTicks,textPlugin([
  {t:corText,x:1980.78,y:-1.208,align:'left',font:'91.5px '+FONT},
  {t:'BSIC',x:2008.05,y:-0.9,align:'left',font:'81px '+FONT},
  {t:'SD',x:2008.05,y:-1.238,align:'left',font:'81px '+FONT},
  {t:'C',x:223,y:44,px:true,font:'bold 46px '+FONT}
])],options:{responsive:false,animation:false,events:[],devicePixelRatio:1,plugins:{legend:{display:false},tooltip:{enabled:false}},layout:{padding:0},scales:{
  x:{type:'linear',min:1979,max:2015,position:'bottom',...axisCommon(45),afterBuildTicks:s=>{s.ticks=yearMajor.map(v=>({value:v}));},afterFit:s=>{s.height=140;},ticks:{autoSkip:false,maxRotation:0,minRotation:0,color:'#000',padding:34,font:{family:FONT,size:58},callback:v=>String(v)}},
  xTop:{type:'linear',min:1979,max:2015,position:'top',...axisCommon(45),afterBuildTicks:s=>{s.ticks=yearMajor.map(v=>({value:v}));},afterFit:s=>{s.height=149;},ticks:{display:false}},
  y:{type:'linear',min:-1.5,max:1.5,position:'left',...axisCommon(47),afterBuildTicks:s=>{s.ticks=valueMajor.map(v=>({value:v}));},afterFit:s=>{s.width=198;},ticks:{autoSkip:false,color:'#000',padding:42,labelOffset:3,font:{family:FONT,size:58},callback:v=>v.toFixed(1)}},
  yRight:{type:'linear',min:-1.5,max:1.5,position:'right',...axisCommon(47),afterBuildTicks:s=>{s.ticks=valueMajor.map(v=>({value:v}));},afterFit:s=>{s.width=203.5;},ticks:{display:false}}
}}});
</script>
</body></html>
